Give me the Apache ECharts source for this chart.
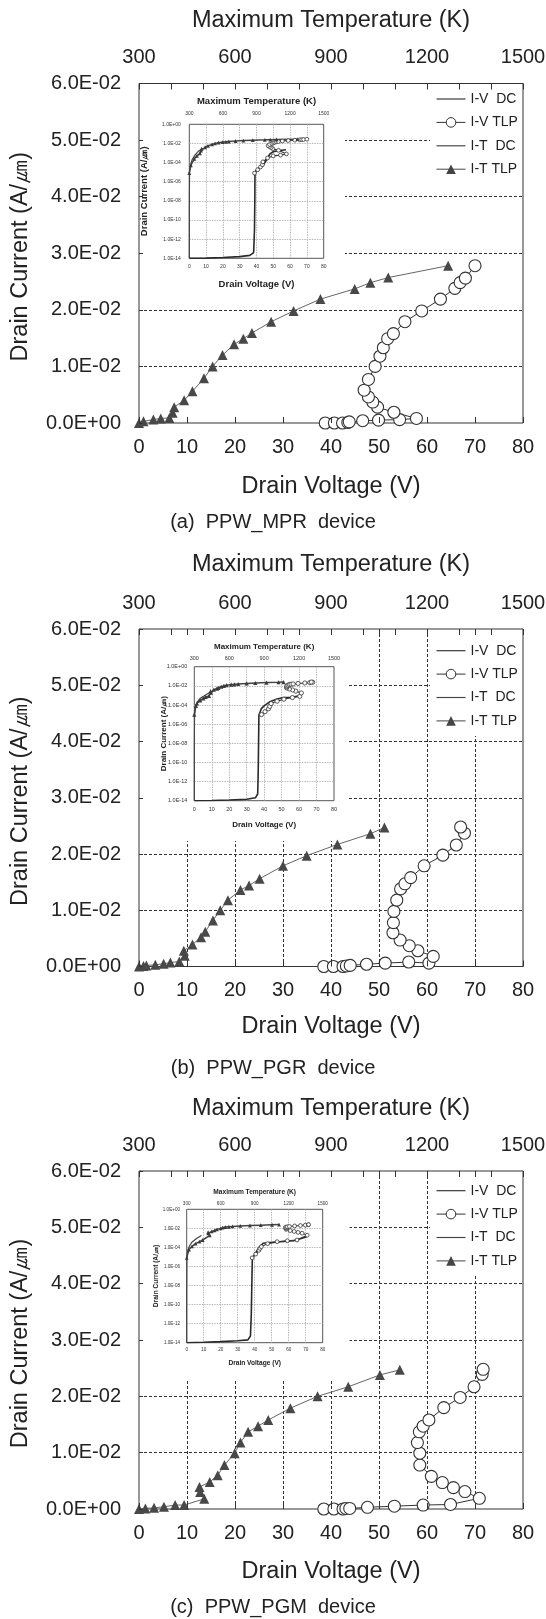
<!DOCTYPE html>
<html><head><meta charset="utf-8">
<script src="https://cdn.jsdelivr.net/npm/echarts@6/dist/echarts.min.js"></script>
<style>html,body{margin:0;padding:0;background:#fff}#c{width:546px;height:1619px}</style>
</head><body><div id="c"></div>
<script>
// ================= DATA =================
const yTickLabels = ['0.0E+00','1.0E-02','2.0E-02','3.0E-02','4.0E-02','5.0E-02','6.0E-02'];
const tempTickLabels = ['300','600','900','1200','1500'];
const insetYTickLabels = ['1.0E-14','1.0E-12','1.0E-10','1.0E-08','1.0E-06','1.0E-04','1.0E-02','1.0E+00'];
const captions = ['(a)  PPW_MPR  device', '(b)  PPW_PGR  device', '(c)  PPW_PGM  device'];
const seriesNames = ['I-V  DC', 'I-V TLP', 'I-T  DC', 'I-T TLP'];

// main charts: I-V TLP [V, A/um], I-T TLP [K, A/um]
const ivTLP_a = [[38.8,0],[40.7,0],[42.4,0],[43.5,0.0001],[43.8,0.0002],[46.6,0.0004],[49.9,0.0005],[54.3,0.0006],[57.8,0.0008],[53.1,0.0019],[49.7,0.0028],[48.7,0.0037],[47.8,0.0046],[46.9,0.0058],[47.8,0.0077],[49.2,0.0100],[50.2,0.0118],[50.9,0.0133],[51.8,0.0149],[53.0,0.0158],[55.4,0.0179],[58.9,0.0198],[62.8,0.0219],[65.8,0.0238],[66.9,0.0248],[68.0,0.0256],[70.0,0.0278]];
const itTLP_a = [[300,0],[314,0.0003],[345,0.0006],[368,0.0008],[395,0.0009],[405,0.0018],[410,0.0028],[441,0.0040],[467,0.0056],[503,0.0079],[530,0.0100],[561,0.0120],[597,0.0139],[626,0.0149],[653,0.0159],[713,0.0179],[783,0.0198],[867,0.0219],[974,0.0237],[1023,0.0248],[1079,0.0257],[1266,0.0278]];

const ivTLP_b = [[38.5,0],[40.5,0],[42.5,0],[43.2,0.0001],[44.0,0.0002],[47.4,0.0004],[51.3,0.0006],[56.2,0.0008],[60.4,0.0006],[61.3,0.0018],[58.1,0.0028],[56.3,0.0037],[54.4,0.0047],[52.9,0.0060],[53.0,0.0078],[53.1,0.0098],[53.7,0.0118],[54.5,0.0138],[55.4,0.0147],[56.6,0.0158],[59.4,0.0179],[63.3,0.0198],[66.1,0.0216],[67.8,0.0237],[67.0,0.0248]];
const itTLP_b = [[300,0],[314,0.0001],[323,0.0002],[351,0.0003],[377,0.0005],[398,0.0007],[426,0.0009],[443,0.0019],[440,0.0028],[467,0.0039],[494,0.0052],[507,0.0062],[531,0.0082],[554,0.0100],[578,0.0118],[617,0.0136],[644,0.0144],[677,0.0156],[750,0.0179],[824,0.0197],[920,0.0217],[1023,0.0236],[1067,0.0247]];

const ivTLP_c = [[38.5,0],[40.6,0],[42.5,0],[43.1,0.0001],[43.9,0.0001],[47.6,0.0003],[53.2,0.0005],[59.2,0.0007],[64.9,0.0008],[70.9,0.0019],[67.9,0.0031],[65.5,0.0038],[63.2,0.0047],[60.9,0.0058],[58.5,0.0078],[58.5,0.0099],[58.0,0.0118],[58.4,0.0137],[59.2,0.0147],[60.4,0.0158],[63.5,0.0180],[66.9,0.0198],[69.8,0.0217],[71.5,0.0239],[71.7,0.0248]];
const itTLP_c = [[300,0],[320,0.0001],[347,0.0002],[378,0.0004],[413,0.0007],[441,0.0007],[504,0.0018],[491,0.0030],[489,0.0039],[521,0.0048],[546,0.0060],[567,0.0078],[599,0.0099],[617,0.0118],[641,0.0137],[672,0.0147],[704,0.0158],[773,0.0179],[858,0.0200],[954,0.0217],[1053,0.0238],[1115,0.0247]];

// insets (log current)
const insetIvDC_a = [[0,1e-14],[10,1.05e-14],[20,1.2e-14],[30,1.5e-14],[36,2e-14],[38.3,4e-14],[38.8,1e-11],[39,1e-8],[39.1,8e-6],[40,1.7e-5],[42,3.2e-5],[44,5e-5],[46.6,3e-4],[48,8e-4],[50,1.4e-3],[54,1.8e-3],[57.5,2.2e-3]];
const insetIvTLP_a = [[38.8,8e-6],[40.7,1.8e-5],[42.4,3.5e-5],[43.5,6e-5],[43.8,1.2e-4],[46.6,3e-4],[49.9,5e-4],[54.3,6e-4],[57.8,8e-4],[53.1,1.9e-3],[49.7,2.8e-3],[48.7,3.7e-3],[47.8,4.6e-3],[46.9,5.8e-3],[47.8,7.7e-3],[49.2,0.0100],[50.2,0.0118],[50.9,0.0133],[51.8,0.0149],[53.0,0.0158],[55.4,0.0179],[58.9,0.0198],[62.8,0.0219],[65.8,0.0238],[66.9,0.0248],[68.0,0.0256],[70.0,0.0278]];
const insetItDC_a = [[300,1e-14],[300.5,1e-8],[302,1e-5],[310,5e-5],[325,2e-4],[350,6e-4],[380,1.5e-3],[420,3e-3]];
const insetItTLP_a = [[300,8e-6],[314,5e-5],[345,2.5e-4],[368,5e-4],[395,9e-4],[405,1.8e-3],[410,2.8e-3],[441,4.0e-3],[467,5.6e-3],[503,7.9e-3],[530,0.0100],[561,0.0120],[597,0.0139],[626,0.0149],[653,0.0159],[713,0.0179],[783,0.0198],[867,0.0219],[974,0.0237],[1023,0.0248],[1079,0.0257],[1266,0.0278]];

const insetIvDC_b = [[0,1e-14],[10,1.05e-14],[20,1.2e-14],[30,1.4e-14],[35,2e-14],[36.3,5e-14],[36.6,1e-11],[36.8,1e-8],[37,9e-6],[38.5,4.5e-5],[40,8e-5],[43.3,2.2e-4],[47,4e-4],[51,6e-4],[55.7,6.5e-4],[59.5,8.6e-4]];
const insetIvTLP_b = [[38.5,1e-5],[40.5,2e-5],[42.5,4e-5],[43.2,7e-5],[44.0,1.4e-4],[47.4,2.5e-4],[51.3,4e-4],[56.2,6e-4],[60.4,8e-4],[61.3,1.8e-3],[58.1,2.8e-3],[56.3,3.7e-3],[54.4,4.7e-3],[52.9,6.0e-3],[53.0,7.8e-3],[53.1,9.8e-3],[53.7,0.0118],[54.5,0.0138],[55.4,0.0147],[56.6,0.0158],[59.4,0.0179],[63.3,0.0198],[66.1,0.0216],[67.8,0.0237],[67.0,0.0248]];
const insetItDC_b = [[300,1e-14],[300.5,1e-8],[302,1e-5],[310,6e-5],[325,2e-4],[350,5e-4],[390,1e-3],[430,2e-3]];
const insetItTLP_b = [[300,1e-5],[314,8e-5],[323,1.5e-4],[351,3e-4],[377,5e-4],[398,7e-4],[426,9e-4],[443,1.9e-3],[440,2.8e-3],[467,3.9e-3],[494,5.2e-3],[507,6.2e-3],[531,8.2e-3],[554,0.0100],[578,0.0118],[617,0.0136],[644,0.0144],[677,0.0156],[750,0.0179],[824,0.0197],[920,0.0217],[1023,0.0236],[1067,0.0247]];

const insetIvDC_c = [[0,1e-14],[10,1.1e-14],[20,1.3e-14],[30,1.6e-14],[36,2e-14],[37.5,5e-14],[38,1e-11],[38.3,1e-8],[38.6,7e-6],[41,3.5e-5],[43,1.2e-4],[45,2.7e-4],[49,3.2e-4],[55,4e-4],[63,5e-4],[70.6,1.3e-3]];
const insetIvTLP_c = [[38.5,8e-6],[40.6,2e-5],[42.5,5e-5],[43.1,8e-5],[43.9,1.2e-4],[47.6,2.5e-4],[53.2,4e-4],[59.2,5e-4],[64.9,6e-4],[70.9,1.9e-3],[67.9,3.1e-3],[65.5,3.8e-3],[63.2,4.7e-3],[60.9,5.8e-3],[58.5,7.8e-3],[58.5,9.9e-3],[58.0,0.0118],[58.4,0.0137],[59.2,0.0147],[60.4,0.0158],[63.5,0.0180],[66.9,0.0198],[69.8,0.0217],[71.5,0.0239],[71.7,0.0248]];
const insetItDC_c = [[300,1e-14],[300.5,1e-8],[302,8e-6],[310,5e-5],[325,1.5e-4],[350,4e-4],[390,9e-4],[430,1.8e-3]];
const insetItTLP_c = [[300,8e-6],[320,6e-5],[347,1.3e-4],[378,2.5e-4],[413,4e-4],[441,6e-4],[504,1.8e-3],[491,3.0e-3],[489,3.9e-3],[521,4.8e-3],[546,6.0e-3],[567,7.8e-3],[599,9.9e-3],[617,0.0118],[641,0.0137],[672,0.0147],[704,0.0158],[773,0.0179],[858,0.0200],[954,0.0217],[1053,0.0238],[1115,0.0247]];

// ================= LAYOUT / STYLE =================
const FONT = '"Liberation Sans", Arial, Helvetica, sans-serif';
const TXT = '#222';
const L = 139, W = 384;
const DC_ICON = 'path://M0,0H30V1.2H0Z';
const panels = [
  {top:83.5, height:339.5, vgrid:false, vTop:false, topGap:50.5, botGap:52, capTop:512.5, legPad:7.5, boxR:345, boxH:208,
   inset:{left:189.3, top:124.3, width:134.4, height:134, lbl:5, nm:9.5, tM:8.5, bM:6, yM:8.5, tG:18, bG:20.7, yG:39.5, sym:3.8},
   d:[ivTLP_a, itTLP_a, insetIvDC_a, insetIvTLP_a, insetItDC_a, insetItTLP_a]},
  {top:629, height:337.5, vgrid:true, vTop:true, topGap:52, botGap:48, capTop:1058.5, legPad:13.7, boxR:349, boxH:211,
   inset:{left:194.3, top:666.7, width:139.7, height:134, lbl:5.5, nm:8, tM:5, bM:5.5, yM:7, tG:16, bG:20.3, yG:27, sym:4.2},
   d:[ivTLP_b, itTLP_b, insetIvDC_b, insetIvTLP_b, insetItDC_b, insetItTLP_b]},
  {top:1171, height:338, vgrid:true, vTop:true, topGap:50, botGap:51, capTop:1597, legPad:11.7, boxR:349.6, boxH:207,
   inset:{left:186.7, top:1209.3, width:136, height:133.4, lbl:4.6, nm:6.6, tM:3, bM:5, yM:6.7, tG:13.3, bG:16.7, yG:27.4, sym:3.8},
   d:[ivTLP_c, itTLP_c, insetIvDC_c, insetIvTLP_c, insetItDC_c, insetItTLP_c]}
];
const dashed = {color:'#333', width:1, type:[3,2]};
const insetGridLine = {color:'#a8a8a8', width:0.8, type:[1.5,1]};

const grid=[], xAxis=[], yAxis=[], mainSeries=[], insetSeries=[], legend=[], title=[], graphicEls=[];
const noLine = {show:false, onZero:false};

panels.forEach((p, i) => {
  const gM = grid.length;
  grid.push({left:L, top:p.top, width:W, height:p.height, show:true, borderColor:'#333', borderWidth:1, backgroundColor:'transparent', z:0, outerBoundsMode:'none', containLabel:false});
  const gI = grid.length;
  const ins = p.inset;
  grid.push({left:ins.left, top:ins.top, width:ins.width, height:ins.height, show:true, borderColor:'#555', borderWidth:1, backgroundColor:'transparent', z:3, outerBoundsMode:'none', containLabel:false});

  // main axes
  const xV = xAxis.length;
  xAxis.push({gridIndex:gM, type:'value', position:'bottom', min:0, max:80, interval:10, z:6,
    name:'Drain Voltage (V)', nameLocation:'middle', nameGap:p.botGap, nameMoveOverlap:false,
    nameTextStyle:{fontSize:23.5, color:TXT},
    axisLine:noLine, axisTick:{show:true, inside:true, length:6, lineStyle:{color:'#333', width:1}},
    axisLabel:{fontSize:20, color:TXT, margin:14}, splitLine:{show:false}});
  const xT = xAxis.length;
  xAxis.push({gridIndex:gM, type:'value', position:'top', min:300, max:1500, interval:300, z:6,
    name:'Maximum Temperature (K)', nameLocation:'middle', nameGap:p.topGap, nameMoveOverlap:false,
    nameTextStyle:{fontSize:23.5, color:TXT},
    axisLine:noLine, axisTick:{show:true, inside:true, length:6, lineStyle:{color:'#333', width:1}},
    minorTick:{show:true, splitNumber:3, length:6, lineStyle:{color:'#333', width:1}},
    axisLabel:{fontSize:20, color:TXT, margin:16, formatter:(v, idx) => tempTickLabels[idx]},
    splitLine:{show:false}, minorSplitLine:{show:false}});
  xAxis.push({gridIndex:gM, type:'value', position:'bottom', min:0, max:80, interval:10, z:0,
    axisLine:noLine, axisTick:{show:false}, axisLabel:{show:false},
    splitLine:{show:p.vgrid, showMinLine:false, showMaxLine:false, lineStyle:dashed}});
  xAxis.push({gridIndex:gM, type:'value', position:'top', min:0, max:80, interval:10, z:6,
    axisLine:noLine, axisTick:{show:p.vTop, inside:true, length:6, lineStyle:{color:'#333', width:1}},
    axisLabel:{show:false}, splitLine:{show:false}});
  const yI = yAxis.length;
  yAxis.push({gridIndex:gM, type:'value', position:'left', min:0, max:0.06, interval:0.01, z:6,
    name:'Drain Current (A/㎛)', nameLocation:'middle', nameGap:106.5, nameMoveOverlap:false,
    nameTextStyle:{fontSize:23.5, color:TXT, padding:[0,7,0,0]},
    axisLine:noLine, axisTick:{show:true, inside:true, length:4, lineStyle:{color:'#333', width:1}},
    axisLabel:{fontSize:20, color:TXT, margin:18, formatter:(v, idx) => yTickLabels[idx]},
    splitLine:{show:false}});
  yAxis.push({gridIndex:gM, type:'value', position:'left', min:0, max:0.06, interval:0.01, z:0,
    axisLine:noLine, axisTick:{show:false}, axisLabel:{show:false},
    splitLine:{show:true, showMinLine:false, showMaxLine:false, lineStyle:dashed}});

  // inset axes
  const xIV = xAxis.length;
  xAxis.push({gridIndex:gI, type:'value', position:'bottom', min:0, max:80, interval:10, z:3,
    name:'Drain Voltage (V)', nameLocation:'middle', nameGap:ins.bG, nameMoveOverlap:false,
    nameTextStyle:{fontSize:ins.nm, fontWeight:'bold', color:TXT},
    axisLine:noLine, axisTick:{show:false}, axisLabel:{fontSize:ins.lbl, color:'#333', margin:ins.bM},
    splitLine:{show:true, showMinLine:false, showMaxLine:false, lineStyle:insetGridLine}});
  const xIT = xAxis.length;
  xAxis.push({gridIndex:gI, type:'value', position:'top', min:300, max:1500, interval:300, z:3,
    name:'Maximum Temperature (K)', nameLocation:'middle', nameGap:ins.tG, nameMoveOverlap:false,
    nameTextStyle:{fontSize:ins.nm, fontWeight:'bold', color:TXT},
    axisLine:noLine, axisTick:{show:false},
    axisLabel:{fontSize:ins.lbl, color:'#333', margin:ins.tM, formatter:(v, idx) => tempTickLabels[idx]},
    splitLine:{show:false}});
  const yIlog = yAxis.length;
  yAxis.push({gridIndex:gI, type:'log', logBase:10, position:'left', min:1e-14, max:1, show:false});
  yAxis.push({gridIndex:gI, type:'value', position:'left', min:-14, max:0, interval:2, z:3,
    name:'Drain Current (A/㎛)', nameLocation:'middle', nameGap:ins.yG, nameMoveOverlap:false,
    nameTextStyle:{fontSize:ins.nm, fontWeight:'bold', color:TXT},
    axisLine:noLine, axisTick:{show:false},
    axisLabel:{fontSize:ins.lbl, color:'#333', margin:ins.yM, formatter:(v, idx) => insetYTickLabels[idx]},
    splitLine:{show:true, showMinLine:false, showMaxLine:false, lineStyle:insetGridLine}});

  // main series
  mainSeries.push({type:'line', name:seriesNames[1], xAxisIndex:xV, yAxisIndex:yI, data:p.d[0],
    symbol:'circle', symbolSize:12, itemStyle:{color:'#fff', borderColor:'#333', borderWidth:1.1},
    lineStyle:{color:'#333', width:1}, z:2});
  mainSeries.push({type:'line', name:seriesNames[3], xAxisIndex:xT, yAxisIndex:yI, data:p.d[1],
    symbol:'triangle', symbolSize:10, itemStyle:{color:'#484848'},
    lineStyle:{color:'#666', width:1}, z:2});
  // inset series
  insetSeries.push({type:'line', name:seriesNames[0], xAxisIndex:xIV, yAxisIndex:yIlog, data:p.d[2],
    symbol:'none', lineStyle:{color:'#2a2a2a', width:1.6}, z:4});
  insetSeries.push({type:'line', name:seriesNames[1], xAxisIndex:xIV, yAxisIndex:yIlog, data:p.d[3],
    symbol:'circle', symbolSize:ins.sym, itemStyle:{color:'#fff', borderColor:'#333', borderWidth:0.8},
    lineStyle:{color:'#333', width:1.1}, z:4});
  insetSeries.push({type:'line', name:seriesNames[2], xAxisIndex:xIT, yAxisIndex:yIlog, data:p.d[4],
    symbol:'none', lineStyle:{color:'#444', width:1.2}, z:4});
  insetSeries.push({type:'line', name:seriesNames[3], xAxisIndex:xIT, yAxisIndex:yIlog, data:p.d[5],
    symbol:'triangle', symbolSize:ins.sym, itemStyle:{color:'#3a3a3a'},
    lineStyle:{color:'#444', width:1.5}, z:4});

  legend.push({orient:'vertical', left:430, top:p.top + 1, padding:[p.legPad, 4, 8, 6],
    itemWidth:29, itemHeight:12, itemGap:9.4, backgroundColor:'#fff', selectedMode:false, z:5,
    textStyle:{fontSize:14, color:TXT},
    data:[
      {name:seriesNames[0], icon:DC_ICON, itemStyle:{color:'#333', borderWidth:0}},
      {name:seriesNames[1], itemStyle:{color:'#fff', borderColor:'#333', borderWidth:1}, lineStyle:{color:'#333', width:1}},
      {name:seriesNames[2], icon:DC_ICON, itemStyle:{color:'#444', borderWidth:0}},
      {name:seriesNames[3], itemStyle:{color:'#444', borderWidth:0}, lineStyle:{color:'#444', width:1}}
    ]});

  title.push({text:captions[i], left:'center', top:p.capTop, padding:0,
    textStyle:{fontSize:20, fontWeight:'normal', color:TXT}});

  graphicEls.push({type:'rect', silent:true, z:1,
    shape:{x:L + 1, y:p.top + 1, width:p.boxR - L - 1, height:p.boxH}, style:{fill:'#fff'}});
});

const chart = echarts.init(document.getElementById('c'), null, {renderer:'canvas'});
chart.setOption({
  animation:false,
  backgroundColor:'#fff',
  textStyle:{fontFamily:FONT},
  title, legend, grid, xAxis, yAxis,
  graphic:{elements:graphicEls},
  series: mainSeries.concat(insetSeries)
});
</script></body></html>
